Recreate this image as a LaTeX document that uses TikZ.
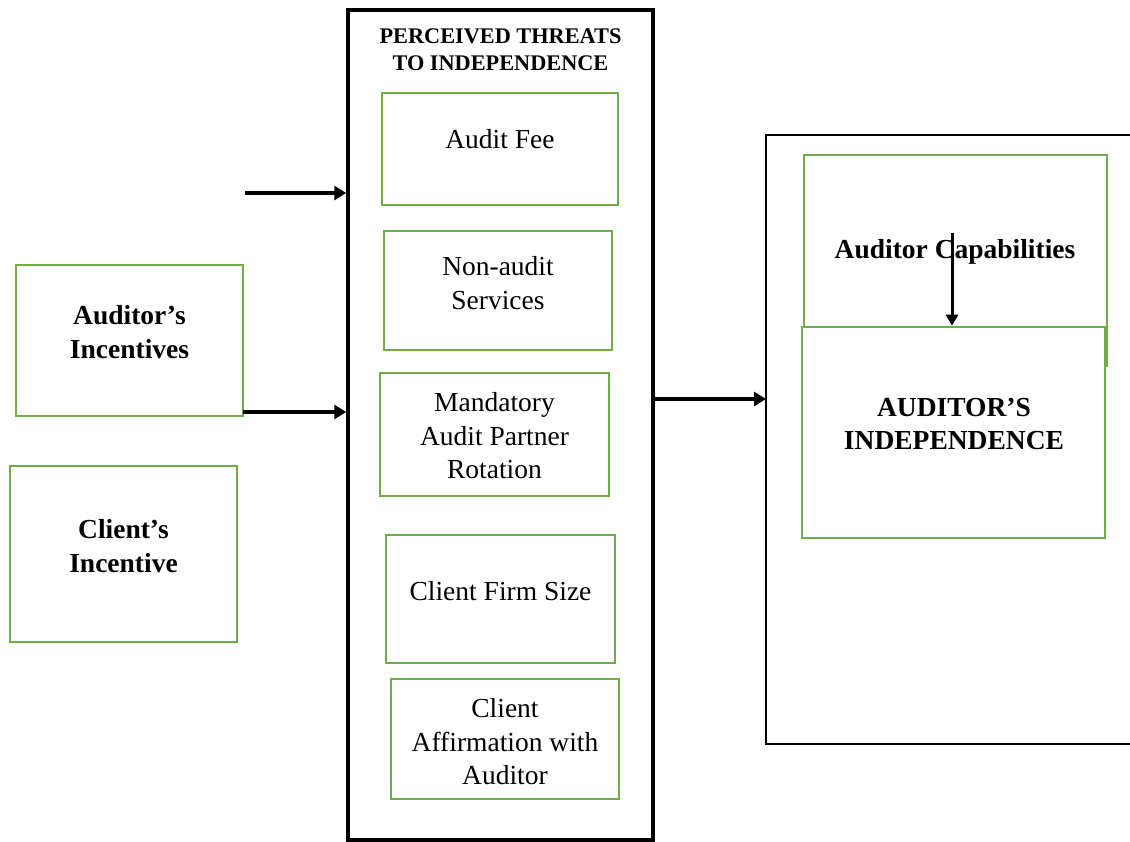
\documentclass[tikz,border=0pt]{standalone}
\usepackage{fontspec}
\setmainfont{Liberation Serif}
\usetikzlibrary{arrows.meta,calc}
\definecolor{gr}{HTML}{70AD47}
\tikzset{
  gbox/.style={draw=gr, line width=2.5pt, fill=white, inner sep=0pt},
  txt/.style={align=center, inner sep=0pt, font=\fontsize{27.5}{33.5}\selectfont},
  btxt/.style={align=center, inner sep=0pt, font=\fontsize{27.5}{33.5}\selectfont\bfseries},
  ttl/.style={align=center, inner sep=0pt, font=\fontsize{22.3}{27}\selectfont\bfseries},
  arr/.style={line width=3.5pt, -{Triangle[length=12pt,width=14pt]}},
  arrs/.style={line width=3pt, -{Triangle[length=11pt,width=12pt]}}
}
\begin{document}
\begin{tikzpicture}[x=1pt,y=-1pt]
\useasboundingbox (0,0) rectangle (1130,842);
% central box
\node[draw, line width=3.5pt, minimum width=305, minimum height=830, inner sep=0pt] (threat) at (500.5,425) {};
\node[ttl] (title) at (500.5,50) {PERCEIVED THREATS\\TO INDEPENDENCE};
% inner boxes
\node[gbox, minimum width=236, minimum height=112] (fee) at (500,149) {};
\node[txt] (feet) at (500,139) {Audit Fee};
\node[gbox, minimum width=228, minimum height=119] (nas) at (498,290.5) {};
\node[txt] (nast) at (498,283) {Non-audit\\Services};
\node[gbox, minimum width=229, minimum height=123] (mapr) at (494.5,434.5) {};
\node[txt] (maprt) at (494.5,436) {Mandatory\\Audit Partner\\Rotation};
\node[gbox, minimum width=229, minimum height=128] (cfs) at (500.5,599) {};
\node[txt] (cfst) at (500.5,591) {Client Firm Size};
\node[gbox, minimum width=228, minimum height=120] (caw) at (505,739) {};
\node[txt] (cawt) at (505,742) {Client\\Affirmation with\\Auditor};
% left boxes
\node[gbox, minimum width=227, minimum height=151] (ai) at (129.5,340.5) {};
\node[btxt] (ait) at (129.5,332) {Auditor’s\\Incentives};
\node[gbox, minimum width=227, minimum height=176] (ci) at (123.5,554) {};
\node[btxt] (cit) at (123.5,546) {Client’s\\Incentive};
% arrows into central box
\coordinate (a1s) at (245,193);
\draw[arr] (a1s) -- (a1s -| threat.west);
\coordinate (a2s) at (243,412);
\draw[arr] (a2s) -- (a2s -| threat.west);
% right box
\coordinate (rbl) at (766,399);
\draw[line width=2.5pt] (1135,135) -- (766,135) -- (766,744) -- (1135,744);
\draw[arr] (threat.east |- rbl) -- (rbl);
% right inner boxes
\node[gbox, minimum width=303, minimum height=211] (cap) at (955.5,260.5) {};
\node[gbox, minimum width=303, minimum height=211] (aind) at (953.5,432.5) {};
\node[btxt] (capt) at (955,252) {Auditor Capabilities};
\node[btxt] (aindt) at (954,424) {AUDITOR’S\\INDEPENDENCE};
\coordinate (cs) at (952,233);
\draw[arrs] (cs) -- (cs |- aind.north);
\end{tikzpicture}
\end{document}
